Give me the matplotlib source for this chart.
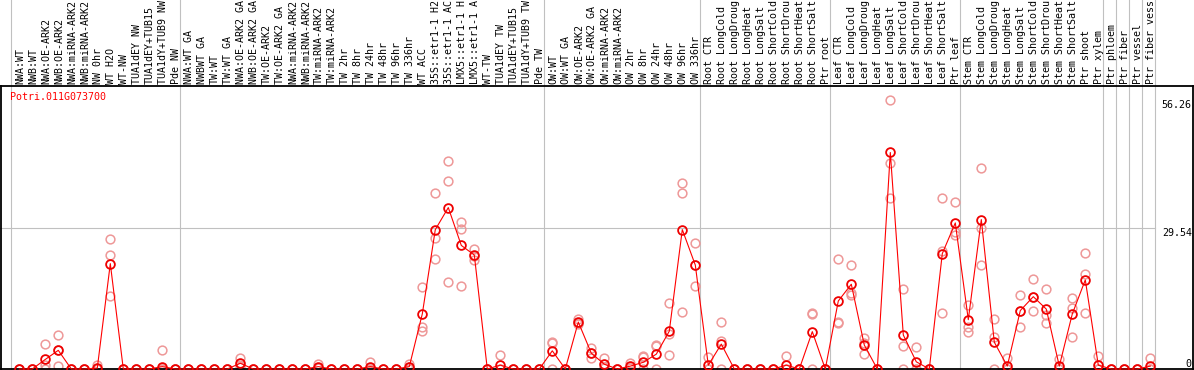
import numpy as np
import matplotlib
matplotlib.use("Agg")
import matplotlib.pyplot as plt
from matplotlib.transforms import blended_transform_factory

gene = "Potri.011G073700"

samples = [
    "NWA:WT", "NWB:WT", "NWA:OE-ARK2", "NWB:OE-ARK2", "NWA:miRNA-ARK2", "NWB:miRNA-ARK2",
    "NW 0hr", "WT H2O", "WT-NW", "TUA1dEY NW", "TUA1dEY+TUB15", "TUA1dY+TUB9 NW", "Pde NW",
    "NWA:WT GA", "NWBWT GA", "TW:WT", "TW:WT GA", "NWA:OE-ARK2 GA", "NWB:OE-ARK2 GA",
    "TW:OE-ARK2", "TW:OE-ARK2 GA", "NWA:miRNA-ARK2", "NWB:miRNA-ARK2", "TW:miRNA-ARK2",
    "TW:miRNA-ARK2", "TW 2hr", "TW 8hr", "TW 24hr", "TW 48hr", "TW 96hr", "TW 336hr",
    "WT ACC", "35S::etr1-1 H2", "35S::etr1-1 AC", "LMX5::etr1-1 H", "LMX5::etr1-1 A",
    "WT-TW", "TUA1dEY TW", "TUA1dEY+TUB15", "TUA1dY+TUB9 TW", "Pde TW",
    "OW:WT", "OW:WT GA", "OW:OE-ARK2", "OW:OE-ARK2 GA", "OW:miRNA-ARK2", "OW:miRNA-ARK2",
    "OW 2hr", "OW 8hr", "OW 24hr", "OW 48hr", "OW 96hr", "OW 336hr",
    "Root CTR", "Root LongCold", "Root LongDroug", "Root LongHeat", "Root LongSalt",
    "Root ShortCold", "Root ShortDrou", "Root ShortHeat", "Root ShortSalt", "Ptr root",
    "Leaf CTR", "Leaf LongCold", "Leaf LongDroug", "Leaf LongHeat", "Leaf LongSalt",
    "Leaf ShortCold", "Leaf ShortDrou", "Leaf ShortHeat", "Leaf ShortSalt", "Ptr leaf",
    "Stem CTR", "Stem LongCold", "Stem LongDroug", "Stem LongHeat", "Stem LongSalt",
    "Stem ShortCold", "Stem ShortDrou", "Stem ShortHeat", "Stem ShortSalt", "Ptr shoot",
    "Ptr xylem", "Ptr phloem", "Ptr fiber", "Ptr vessel", "Ptr fiber vess",
]

# mean expression per sample
means = [
    0, 0, 2.0, 3.9, 0, 0, 0.2, 22.0, 0, 0, 0, 0.5, 0,
    0, 0, 0, 0, 1.2, 0, 0, 0, 0, 0, 0.5, 0, 0, 0, 0.5, 0, 0, 0.5,
    11.5, 29.1, 33.7, 25.8, 23.8, 0, 0.8, 0, 0, 0,
    3.8, 0, 9.8, 3.3, 1.0, 0, 0.6, 1.4, 3.1, 7.9, 29.1, 21.7,
    0.8, 5.2, 0, 0, 0, 0, 0.8, 0, 7.8, 0,
    14.2, 17.7, 5.0, 0, 45.2, 7.1, 1.5, 0, 24.1, 30.5,
    10.3, 31.2, 5.6, 0.6, 12.2, 15.1, 12.5, 0.6, 11.5, 18.6,
    0.8, 0, 0, 0, 0.6,
]

# replicate values
rep1 = [
    0, 0, 5.2, 7.1, 0, 0, 0.8, 27.2, 0, 0, 0, 3.9, 0,
    0, 0, 0, 0, 2.4, 0, 0, 0, 0, 0, 1.0, 0, 0, 0, 1.4, 0, 0, 1.0,
    17.1, 36.7, 43.5, 30.6, 25.1, 0, 2.9, 0, 0, 0,
    5.7, 0, 10.5, 4.3, 2.2, 0, 1.3, 2.7, 5.0, 13.8, 38.8, 26.3,
    2.6, 9.8, 0, 0, 0, 0, 2.7, 0, 11.7, 0,
    23.0, 21.7, 6.4, 0, 56.26, 16.6, 4.5, 0, 35.6, 34.9,
    13.4, 42.0, 10.5, 2.4, 15.4, 18.8, 16.8, 2.0, 14.8, 24.2,
    2.7, 0, 0, 0, 2.2,
]
rep2 = [
    0, 0, 0.8, 4.0, 0, 0, 0, 23.7, 0, 0, 0, 0, 0,
    0, 0, 0, 0, 0.8, 0, 0, 0, 0, 0, 0.3, 0, 0, 0, 0, 0, 0, 0.5,
    8.7, 27.4, 39.3, 29.2, 22.8, 0, 0, 0, 0, 0,
    5.5, 0, 9.4, 2.3, 0.5, 0, 0.3, 2.5, 4.7, 7.3, 36.8, 21.7,
    0, 5.9, 0, 0, 0, 0, 0, 0, 11.4, 0,
    9.8, 15.9, 5.4, 0, 43.1, 4.8, 0, 0, 24.7, 28.6,
    8.7, 29.5, 6.6, 0, 12.2, 15.1, 11.3, 0, 12.7, 19.8,
    0, 0, 0, 0, 0,
]
rep3 = [
    0, 0, 0, 0.6, 0, 0, 0, 15.2, 0, 0, 0, 0, 0,
    0, 0, 0, 0, 0.4, 0, 0, 0, 0, 0, 0.2, 0, 0, 0, 0, 0, 0, 0,
    8.0, 23.0, 18.2, 17.3, 23.5, 0, 0, 0, 0, 0,
    0, 0, 9.6, 3.3, 0.3, 0, 0.2, 0, 0, 2.9, 11.9, 17.4,
    0, 0, 0, 0, 0, 0, 0, 0, 0, 0,
    9.6, 15.4, 3.1, 0, 35.8, 0, 0, 0, 11.7, 28.0,
    7.8, 21.7, 0, 0, 8.7, 12.2, 9.6, 0, 6.7, 11.7,
    0, 0, 0, 0, 0,
]

# first sample index of each group
group_starts = [0, 13, 41, 53, 63, 73, 84, 85, 86, 87, 88]
y_max_label = 56.26
y_mid_label = 29.54

W, H = 1194, 370
fig = plt.figure(figsize=(W / 100, H / 100), dpi=100)
ax = fig.add_axes([1 / W, 1 / H, 1192 / W, 283 / H])

x = np.arange(len(samples))
pitch = 13.0
x0_px = 19.3
ax.set_xlim((1 - x0_px) / pitch, (1193 - x0_px) / pitch)
ax.set_ylim(0, 283 / 4.79)

mono = "DejaVu Sans Mono"
fs = 7.2
gray = "#c0c0c0"

# group separators
for g in group_starts:
    ax.axvline(g - 0.615, ymin=0, ymax=1.31, color=gray, lw=0.8, zorder=1, clip_on=False)
ax.plot([ax.get_xlim()[0] - 0.1, 88 - 0.615], [y_mid_label, y_mid_label],
        color=gray, lw=0.8, zorder=1, clip_on=False)

# replicates, then means
for rep in (rep1, rep2, rep3):
    ax.plot(x, rep, ls="none", marker="o", ms=6.3, mfc="none", mec="#ee9898",
            mew=1.1, zorder=2, clip_on=False)
ax.plot(x, means, color="red", lw=0.8, zorder=3, clip_on=False)
ax.plot(x, means, ls="none", marker="o", ms=6.3, mfc="none", mec="#ee0000",
        mew=1.3, zorder=4, clip_on=False)

# sample labels on top
trans = blended_transform_factory(ax.transData, fig.transFigure)
for i, s in enumerate(samples):
    ax.text(i + 0.05, (H - 84) / H, s, rotation=90, ha="center", va="bottom",
            family=mono, fontsize=fs, transform=trans, clip_on=False)

fig.text(10 / W, 1 - 97 / H, gene, color="red", family=mono, fontsize=fs, va="center")

xt = 1192 / 1192
ax.text(0.999, y_max_label, f"{y_max_label:.2f}", ha="right", va="top",
        family=mono, fontsize=fs, transform=blended_transform_factory(ax.transAxes, ax.transData))
ax.text(0.999, y_mid_label, f"{y_mid_label:.2f}", ha="right", va="top",
        family=mono, fontsize=fs, transform=blended_transform_factory(ax.transAxes, ax.transData))
ax.text(0.999, 0, "0", ha="right", va="bottom", family=mono, fontsize=fs,
        transform=blended_transform_factory(ax.transAxes, ax.transData))

ax.set_xticks([])
ax.set_yticks([])
for sp in ax.spines.values():
    sp.set_linewidth(1.3)
    sp.set_color("black")

fig.savefig("out.png", dpi=100)
